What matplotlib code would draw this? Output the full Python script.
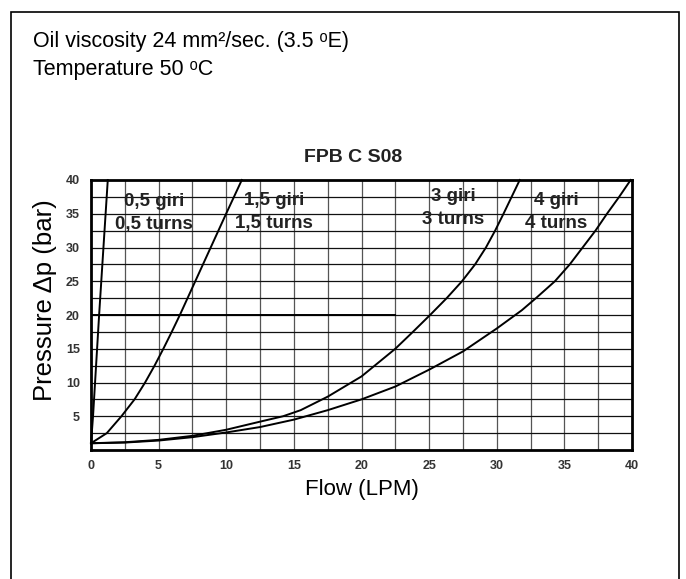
#!/usr/bin/env python3
import matplotlib
matplotlib.use('Agg')
import matplotlib.pyplot as plt
from matplotlib.patches import Rectangle

# Curves: flow (LPM) vs pressure drop (bar)
flow_05 = [0, 0.15, 0.3, 0.45, 0.6, 0.76, 0.92, 1.08, 1.24]
dp_05 = [1, 5, 10, 15, 20, 25, 30, 35, 40]

flow_15 = [0, 1.17, 2.25, 3.22, 4.0, 4.7, 5.35, 5.97, 6.57, 7.14, 7.71, 8.28, 8.85, 9.42, 9.99, 10.57, 11.15]
dp_15 = [1, 2.5, 5, 7.5, 10, 12.5, 15, 17.5, 20, 22.5, 25, 27.5, 30, 32.5, 35, 37.5, 40]

flow_3 = [0, 2.5, 5, 7.5, 10, 12.5, 14.2, 15.5, 17.5, 20, 22.5, 23.8, 25.07, 26.3, 27.43, 28.4, 29.2, 29.88, 30.5, 31.1, 31.7]
dp_3 = [1, 1.15, 1.5, 2.1, 3.0, 4.2, 5.0, 5.9, 7.9, 10.9, 15.0, 17.5, 20, 22.5, 25, 27.5, 30, 32.5, 35, 37.5, 40]

flow_4 = [0, 2.5, 5, 7.5, 10, 12.5, 15, 17.5, 20, 22.5, 25, 27.5, 30, 31.85, 32.9, 34.3, 35.4, 36.35, 37.3, 38.15, 39.05, 39.9]
dp_4 = [1, 1.1, 1.4, 1.9, 2.6, 3.4, 4.5, 5.9, 7.5, 9.4, 11.9, 14.6, 18.0, 20.7, 22.5, 25, 27.5, 30, 32.5, 35, 37.5, 40]

ref_flow = [0, 22.5]
ref_dp = [20, 20]

curve_labels = ['0,5 giri\n0,5 turns', '1,5 giri\n1,5 turns', '3 giri\n3 turns', '4 giri\n4 turns']
label_x = [4.64, 13.55, 26.76, 34.4]
label_y = [35.1, 35.25, 35.8, 35.2]

x_ticks = [0, 5, 10, 15, 20, 25, 30, 35, 40]
y_ticks = [5, 10, 15, 20, 25, 30, 35, 40]

plain = ['Liberation Sans', 'DejaVu Sans']

fig = plt.figure(figsize=(6.86, 5.79), dpi=100)

# outer frame
fig.patches.append(Rectangle((11 / 686, -0.01), 668 / 686, 1 - 12 / 579 + 0.01,
                             transform=fig.transFigure, fill=False,
                             edgecolor='black', linewidth=1.2))

fig.text(33 / 686, 1 - 47 / 579, 'Oil viscosity 24 mm²/sec. (3.5 ᵒE)',
         family=plain, fontsize=15.5, va='baseline', ha='left')
fig.text(33 / 686, 1 - 75 / 579, 'Temperature 50 ᵒC',
         family=plain, fontsize=15.5, va='baseline', ha='left')

ax = fig.add_axes([91 / 686, 129 / 579, 541 / 686, 270 / 579])
ax.set_xlim(0, 40)
ax.set_ylim(0, 40)

# grid every 2.5
for gx in [i * 2.5 for i in range(1, 16)]:
    ax.axvline(gx, color='#555555', linewidth=0.9, zorder=1)
for gy in [i * 2.5 for i in range(1, 16)]:
    ax.axhline(gy, color='#111111', linewidth=0.9, zorder=1)

for fx, dp in [(flow_05, dp_05), (flow_15, dp_15), (flow_3, dp_3), (flow_4, dp_4)]:
    ax.plot(fx, dp, color='black', linewidth=1.4, zorder=3, clip_on=False,
            solid_joinstyle='round')
ax.plot(ref_flow, ref_dp, color='black', linewidth=1.4, zorder=3)

for txt, lx, ly in zip(curve_labels, label_x, label_y):
    ax.text(lx, ly, txt, ha='center', va='center', family=plain,
            fontweight='bold', fontsize=13.5, color='#222222',
            linespacing=1.45, zorder=4)

for sp in ax.spines.values():
    sp.set_linewidth(2)
    sp.set_zorder(5)

ax.set_xticks(x_ticks)
ax.set_yticks(y_ticks)
ax.tick_params(length=0, labelsize=9)
ax.tick_params(axis='x', pad=7)
ax.tick_params(axis='y', pad=8)
for lab in ax.get_xticklabels() + ax.get_yticklabels():
    lab.set_family(plain)
    lab.set_fontweight('bold')
    lab.set_color('#333333')

ax.text(353 / 686 * 0 + (353 - 91) / 541, (450 - 157) / 270, 'FPB C S08',
        transform=ax.transAxes, ha='center', va='center', family=plain,
        fontweight='bold', fontsize=14, color='#222222')
ax.set_xlabel('Flow (LPM)', family=plain, fontsize=16, labelpad=5)
ax.set_ylabel('Pressure Δp (bar)', family=plain, fontsize=18.5)
ax.yaxis.set_label_coords(-0.063, 0.556)

fig.savefig('out.png', dpi=100)
